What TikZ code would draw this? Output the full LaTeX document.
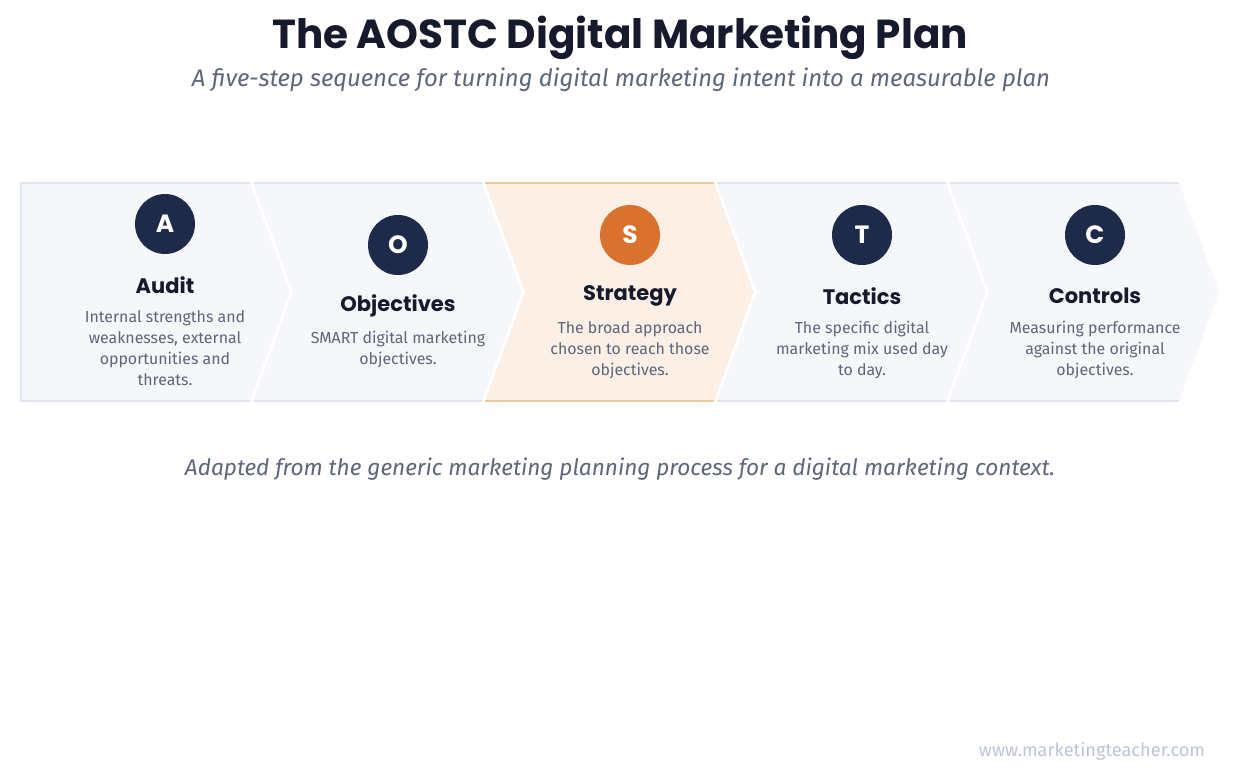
\documentclass[tikz,border=0pt]{standalone}
\usepackage{fontspec}
\setmainfont{Fira Sans}
\newfontfamily\headfont{Poppins}
\definecolor{navy}{HTML}{1E2A4A}
\definecolor{ink}{HTML}{161A2C}
\definecolor{muted}{HTML}{5E6679}
\definecolor{orng}{HTML}{D9722F}
\definecolor{chfill}{HTML}{F5F7FA}
\definecolor{chline}{HTML}{E2E6ED}
\definecolor{sfill}{HTML}{FBEFE6}
\definecolor{sline}{HTML}{F0C9A4}
\definecolor{wm}{HTML}{BDC6D8}
\tikzset{
  badge/.style={circle,minimum size=60pt,inner sep=0pt,fill=navy,text=white,font=\headfont\bfseries\fontsize{25}{25}\selectfont},
  heading/.style={text=ink,font=\headfont\bfseries\fontsize{21}{23}\selectfont,inner sep=0pt},
  desc/.style={text=muted,align=center,font=\fontsize{15.9}{21}\selectfont,inner sep=0pt,anchor=north},
}
\begin{document}
\begin{tikzpicture}[x=1pt,y=-1pt]
\useasboundingbox[fill=white] (0,0) rectangle (1239,780);
% chevrons
\foreach \i/\fc/\lc in {0/chfill/chline,1/chfill/chline,2/sfill/sline,3/chfill/chline,4/chfill/chline}{
  \pgfmathsetmacro{\xa}{21+232*\i}
  \ifnum\i=0
    \fill[\fc] (\xa,183) -- ({\xa+230},183) -- ({\xa+270},292) -- ({\xa+230},401) -- (\xa,401) -- cycle;
    \draw[\lc,line width=1.5pt] (\xa,401) -- (\xa,183);
  \else
    \fill[\fc] (\xa,183) -- ({\xa+230},183) -- ({\xa+270},292) -- ({\xa+230},401) -- (\xa,401) -- ({\xa+40},292) -- cycle;
  \fi
  \draw[\lc,line width=1.5pt] (\xa,183) -- ({\xa+230},183);
  \draw[\lc,line width=1.5pt] (\xa,401) -- ({\xa+230},401);
}
\foreach \i in {1,2,3,4}{
  \pgfmathsetmacro{\xa}{21+232*\i}
  \draw[white,line width=2pt] ({\xa-2},182) -- ({\xa+38},292) -- ({\xa-2},402);
}
% title
\node[text=ink,font=\headfont\bfseries\fontsize{40.5}{44}\selectfont] (title) at (620,38) {The AOSTC Digital Marketing Plan};
\node[text=muted,font=\itshape\fontsize{23.9}{26}\selectfont] (subtitle) at (621,80) {A five-step sequence for turning digital marketing intent into a measurable plan};
% steps
\node[badge] (cA) at (165,224) {A};
\node[heading] (hA) at (165,285) {Audit};
\node[desc] (dA) at (165,310) {Internal strengths and\\weaknesses, external\\opportunities and\\threats.};
\node[badge] (cO) at (398,245) {O};
\node[heading] (hO) at (398,306) {Objectives};
\node[desc] (dO) at (398,331) {SMART digital marketing\\objectives.};
\node[badge,fill=orng] (cS) at (630,235) {S};
\node[heading] (hS) at (630,296) {Strategy};
\node[desc] (dS) at (630,321) {The broad approach\\chosen to reach those\\objectives.};
\node[badge] (cT) at (862,235) {T};
\node[heading] (hT) at (862,296) {Tactics};
\node[desc] (dT) at (862,321) {The specific digital\\marketing mix used day\\to day.};
\node[badge] (cC) at (1095,235) {C};
\node[heading] (hC) at (1095,296) {Controls};
\node[desc] (dC) at (1095,321) {Measuring performance\\against the original\\objectives.};
% footer
\node[text=muted,font=\itshape\fontsize{22.6}{25}\selectfont] (note) at (620,469) {Adapted from the generic marketing planning process for a digital marketing context.};
\node[text=wm,font=\fontsize{18.2}{20}\selectfont] (web) at (1092,751) {www.marketingteacher.com};
\end{tikzpicture}
\end{document}
